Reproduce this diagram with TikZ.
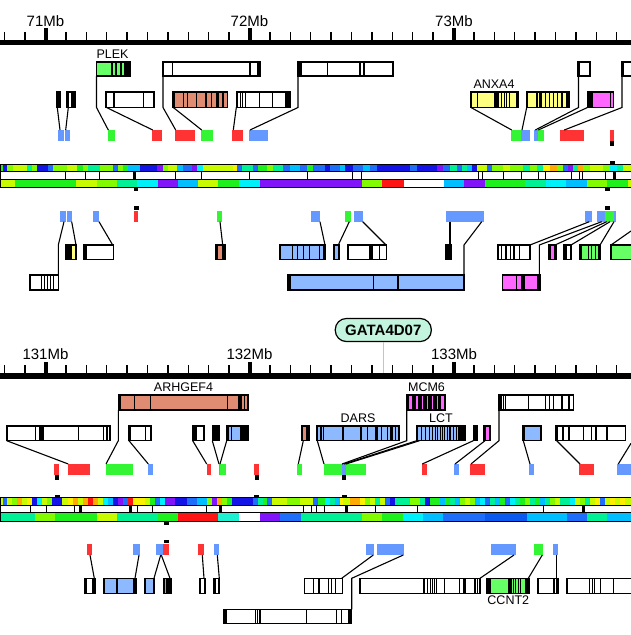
\documentclass[tikz,border=0pt]{standalone}
\usepackage{fontspec}
\setmainfont{Liberation Sans}
\definecolor{hB}{RGB}{20,20,230}
\definecolor{hP}{RGB}{130,20,250}
\definecolor{hD}{RGB}{30,110,250}
\definecolor{hDD}{RGB}{10,90,240}
\definecolor{hS}{RGB}{0,190,255}
\definecolor{hC}{RGB}{0,240,250}
\definecolor{hT}{RGB}{30,240,210}
\definecolor{hQ}{RGB}{0,240,150}
\definecolor{hG}{RGB}{30,240,30}
\definecolor{hL}{RGB}{130,250,0}
\definecolor{hY}{RGB}{200,250,0}
\definecolor{hW}{RGB}{250,240,0}
\definecolor{hO}{RGB}{255,170,0}
\definecolor{hR}{RGB}{255,20,20}
\definecolor{gGreen}{RGB}{102,255,102}
\definecolor{gBrown}{RGB}{224,140,115}
\definecolor{gYellow}{RGB}{255,255,128}
\definecolor{gMag}{RGB}{255,102,255}
\definecolor{gBlue}{RGB}{140,185,255}
\definecolor{sRed}{RGB}{255,51,51}
\definecolor{sGreen}{RGB}{51,245,51}
\definecolor{sBlue}{RGB}{102,153,255}
\definecolor{gataFill}{RGB}{195,245,222}
\definecolor{gataLine}{RGB}{175,225,100}
\tikzset{gline/.style={line width=1.25pt},
  tick/.style={line width=1.3pt}}
% gene: x1, x2, top, height, fill, stripes
\newcommand{\gbox}[6]{%
  \fill[#5] (#1,#3) rectangle (#2,#3+#4);
  \foreach \xa/\xb in {#6} \fill[black] (\xa,#3) rectangle (\xb,#3+#4);
  \draw[gline] (#1,#3) rectangle (#2,#3+#4);}
\newcommand{\sq}[4]{\fill[#4] (#1,#3) rectangle (#2,#3+10.7);}
\newcommand{\band}[3]{%
  \foreach \xa/\xb/\col in {#3} \fill[\col] (\xa,#1) rectangle (\xb,#2);
  \draw[line width=0.9pt] (0,#1) rectangle (631,#2);}
\newcommand{\ruler}[1]{%
  \fill (0,#1) rectangle (631,#1+5.5);
  \foreach \i in {0,...,30} \draw[tick] (4.7+\i*20.4,#1) -- ++(0,-8);
  \foreach \i in {2,12,22} \fill (4.7+\i*20.4-2,#1) rectangle ++(4,-11.5);}
\begin{document}
\begin{tikzpicture}[x=1pt,y=-1pt,
  link/.style={line width=1.1pt},
  mb/.style={anchor=base,font=\fontsize{15}{15}\selectfont},
  gname/.style={anchor=base,font=\fontsize{12.5}{12.5}\selectfont},
  gata/.style={draw,line width=1.2pt,fill=gataFill,rounded corners=11pt,minimum width=96pt,
    minimum height=23pt,inner sep=0pt,font=\fontsize{15}{15}\selectfont\bfseries}]
\useasboundingbox (0,0) rectangle (631,635);

% ---- upper panel
\ruler{39.5}
\node[mb] (m71) at (45.5,26) {71Mb};
\node[mb] (m72) at (249.5,26) {72Mb};
\node[mb] (m73) at (454,26) {73Mb};

\gbox{96.5}{130}{62}{14}{gGreen}{111/113, 115/117, 119.5/121.5, 124/130}
\gbox{163}{260}{62}{14}{white}{163/164, 171.5/173, 249/250.5, 257/260}
\gbox{298}{393}{62}{14}{white}{298/302, 326.7/328.3, 359.3/360.7, 363.3/365, 391.5/393}
\gbox{578}{590}{62}{14}{white}{578/580}
\gbox{622}{634}{62}{14}{white}{622/624}
\node[gname] (plek) at (112.5,58.3) {PLEK};

\gbox{56.5}{60.5}{92}{15.5}{black}{56.5/60.5}
\gbox{67}{75}{92}{15.5}{white}{67/69.3, 71.3/75}
\gbox{105.7}{154.5}{92}{15.5}{white}{105.7/107, 113/115, 142.5/143.8, 153.3/154.5}
\gbox{172.3}{227.7}{92}{15.5}{gBrown}{172.3/175, 182.5/183.7, 186.5/187.7, 195.5/196.7, 205/207, 211/212.3, 216/219, 222/224, 226.5/227.7}
\gbox{236.3}{290.5}{92}{15.5}{white}{236.3/238.3, 240.2/241.2, 242.2/243.2, 244.5/245.5, 259/260.2, 272.2/273.4, 285/290.5}
\gbox{470.7}{518.3}{92}{15.5}{gYellow}{470.7/472, 476.7/478.3, 494/499, 501/502, 503.5/504.5, 506/507, 509/510, 516.3/518.3}
\gbox{526.7}{569.3}{92}{15.5}{gYellow}{526.7/528.3, 536.3/537.5, 539.3/542.3, 544.5/545.7, 549/550.2, 553/554.2, 557/558.2, 561.3/562.5, 566.3/569.3}
\gbox{587.3}{613.3}{92}{15.5}{gMag}{587.3/593, 609.5/611}
\node[gname] (anxa) at (494,88) {ANXA4};

\sq{58}{63.7}{130}{sBlue} \sq{64.7}{70}{130}{sBlue}
\sq{108.3}{115}{130}{sGreen} \sq{152}{162}{130}{sRed}
\sq{175.3}{195}{130}{sRed} \sq{201}{212.7}{130}{sGreen}
\sq{232.3}{243}{130}{sRed} \sq{249.3}{268}{130}{sBlue}
\sq{511}{521}{130}{sGreen} \sq{521}{530}{130}{sBlue}
\sq{534}{538.3}{130}{sBlue} \sq{538.3}{543.7}{130}{sGreen}
\sq{560}{584}{130}{sRed} \sq{610}{614}{130}{sRed}
\fill (610,141) rectangle (614,145.5);

\draw[link] (57.3,107.5) -- (60,130);
\draw[link] (68.3,107.5) -- (65.7,130);
\draw[link] (96.5,76) -- (96.5,107.5) -- (108.3,130);
\draw[link] (106.5,107.5) -- (152.7,130);
\draw[link] (163,76) -- (163,107.5) -- (175.7,130);
\draw[link] (173.3,107.5) -- (201.7,130);
\draw[link] (236.3,107.5) -- (233.3,130);
\draw[link] (298,76) -- (298,107.5) -- (250,130);
\draw[link] (471,107.5) -- (511.7,130);
\draw[link] (526.7,107.5) -- (522,130);
\draw[link] (578.5,76) -- (578.5,107.5) -- (535.3,130);
\draw[link] (587.5,107.5) -- (538.3,130);
\draw[link] (622,76) -- (622,107.5) -- (564.3,130);

\band{164.5}{171.5}{0/3/hG, 3/7/hB, 7/13/hL, 13/27/hY, 27/32/hQ, 32/37/hL, 37/48/hB, 48/53/hD, 53/67/hL, 67/77/hY, 77/83/hG, 83/88/hL, 88/100/hQ, 100/113/hL, 113/118/hD, 118/123/hL, 123/128/hG, 128/140/hS, 140/157/hB, 157/163/hP, 163/168/hL, 168/177/hY, 177/183/hS, 183/192/hD, 192/197/hP, 197/203/hC, 203/233/hY, 233/237/hW, 237/242/hD, 242/253/hQ, 253/258/hD, 258/267/hG, 267/273/hL, 273/283/hQ, 283/290/hD, 290/300/hS, 300/307/hD, 307/313/hG, 313/325/hD, 325/330/hB, 330/340/hD, 340/345/hS, 345/353/hB, 353/363/hD, 363/370/hS, 370/377/hD, 377/410/hB, 410/417/hD, 417/437/hB, 437/443/hP, 443/450/hD, 450/457/hQ, 457/462/hD, 462/467/hQ, 467/472/hS, 472/477/hB, 477/487/hY, 487/492/hD, 492/503/hL, 503/510/hY, 510/523/hL, 523/530/hQ, 530/537/hL, 537/543/hQ, 543/550/hW, 550/557/hO, 557/563/hL, 563/568/hD, 568/573/hP, 573/578/hQ, 578/583/hO, 583/590/hL, 590/603/hY, 603/610/hL, 610/617/hC, 617/623/hQ, 623/631/hY}
\draw[line width=0.9pt] (0,171.5) rectangle (631,179.5);
\foreach \x in {65.7, 85, 99.3, 175.7, 201.7, 249.7, 307.3, 352.7, 361.7, 478.3, 482.7, 503.3, 521.7, 538.7, 545, 571.7, 579.3, 582.7, 605}
  \draw[line width=1pt] (\x,171.5) -- (\x,179.5);
\foreach \x in {134, 614} \fill (\x-1.5,171.5) rectangle (\x+1.5,179.5);
\band{179.5}{187.5}{0/15/hY, 15/35/hG, 35/55/hG, 55/76/hG, 76/97/hY, 97/117/hL, 117/137/hQ, 137/158/hC, 158/178/hP, 178/198/hS, 198/218/hY, 218/239/hG, 239/260/hC, 260/362/hP, 362/382/hL, 382/404/hR, 404/444/white, 444/464/hS, 464/485/hP, 485/525/hG, 525/546/hQ, 546/566/hC, 566/587/hS, 587/607/hL, 607/628/hG, 628/631/hY}
\fill (610,161) rectangle (615,164.5);
\fill (133.5,187.5) rectangle (138,191);
\fill (605,187.5) rectangle (609.5,191);

\fill (133.5,206) rectangle (138.5,210);
\fill (605,206) rectangle (609.5,210);
\sq{60}{65.7}{211}{sBlue} \sq{66.7}{71.7}{211}{sBlue}
\sq{93.3}{99}{211}{sBlue} \sq{134}{138.3}{211}{sRed}
\sq{217.3}{221.7}{211}{sGreen} \sq{311}{320}{211}{sBlue}
\sq{345}{350.7}{211}{sGreen} \sq{354.3}{362.7}{211}{sBlue}
\sq{446}{484}{211}{sBlue} \sq{585}{591.7}{211}{sBlue}
\sq{597.3}{605}{211}{sBlue} \sq{605}{614}{211}{sGreen}
\sq{614}{616}{211}{sBlue}

\gbox{66}{76.5}{245}{14.3}{gYellow}{66/71.7, 74.8/76.5}
\gbox{84}{113.3}{245}{14.3}{white}{84/87}
\gbox{215.3}{225}{245}{14.3}{gBrown}{215.3/218, 222/225}
\gbox{280}{325.5}{245}{14.3}{gBlue}{280/281, 291.7/293, 297/298.3, 302.5/303.8, 309/310.2, 319/320.2, 323.3/325.5}
\gbox{334}{339.5}{245}{14.3}{gBlue}{334/335.3, 338.2/339.5}
\gbox{347.3}{386.7}{245}{14.3}{white}{347.3/348.5, 369.3/373.3, 378.5/379.7, 385.5/386.7}
\gbox{446}{451.7}{245}{14.3}{black}{446/451.7}
\gbox{497.3}{530}{245}{14.3}{white}{497.3/499.3, 501/502.2, 505.3/506.5, 509.5/510.7, 513/515, 518.5/519.7}
\gbox{548.5}{556}{245}{14.3}{gMag}{548.5/550.5, 554/556}
\gbox{564}{571.7}{245}{14.3}{white}{564/567, 570/571.7}
\gbox{579.3}{600.7}{245}{14.3}{gGreen}{579.3/581.5, 587.5/588.7, 590.5/591.7, 594.5/596, 597.5/600.7}
\gbox{610.3}{634}{245}{14.3}{gGreen}{610.3/611.5}

\gbox{29.3}{58.3}{275}{15}{white}{29.3/31.3, 40.5/41.7, 44/45.2, 47/48.2, 50/51.2, 53/54.2}
\gbox{287.3}{464}{275}{15}{gBlue}{287.3/290.5, 372.7/374, 397.3/399.3}
\gbox{502.7}{540}{275}{15}{gMag}{516/517.3, 520.7/525, 536.7/540}

\draw[link] (64,221.7) -- (58.3,245) -- (58.3,275);
\draw[link] (71.7,221.7) -- (76,245);
\draw[link] (99,221.7) -- (112.7,245);
\draw[link] (220,221.7) -- (222.7,245);
\draw[link] (320,221.7) -- (325,245);
\draw[link] (349.3,221.7) -- (338.3,245);
\draw[link] (362.7,221.7) -- (386,245);
\draw[link] (450,221.7) -- (450,245);
\draw[link] (481.7,221.7) -- (464,245) -- (464,275);
\draw[link] (589.3,221.7) -- (530,245);
\draw[link] (601.7,221.7) -- (539.3,245) -- (539.3,275);
\draw[link] (606.7,221.7) -- (555,245);
\draw[link] (610,221.7) -- (571,245);
\draw[link] (614,221.7) -- (600,245);
\draw[link] (631,231) -- (611,245);

% ---- lower panel
\node[gata] (gata) at (383.3,330) {GATA4D07};
\draw[gataLine,line width=0.8pt] (gata.south) -- ++(0,31.5);
\ruler{373}
\node[mb] (m131) at (45.5,359) {131Mb};
\node[mb] (m132) at (249.5,359) {132Mb};
\node[mb] (m133) at (454,359) {133Mb};

\gbox{118.3}{248.3}{395}{15}{gBrown}{118.3/121, 134/135.3, 150/151.2, 227/228.2, 238.3/242.3, 244.3/245.3, 247.3/248.3}
\gbox{406.7}{445.7}{395}{15}{gMag}{406.7/409, 412/416, 417.7/421.7, 423.3/426.7, 428.3/431.7, 433.3/436.7, 438.3/441, 444.3/445.7}
\gbox{499}{573.3}{395}{15}{white}{499/501.5, 502.8/503.8, 505/506, 528/529.2, 544.8/546, 548.5/549.7, 552.5/553.7, 561.3/562.5, 567.8/569.7}
\node[gname] (arhgef) at (183.5,391.5) {ARHGEF4};
\node[gname] (mcm) at (426.5,391.5) {MCM6};

\gbox{6.7}{110.7}{426}{14.7}{white}{6.7/8, 34.5/35.7, 39.3/44, 77.7/78.9, 102.5/103.7, 106.3/107.5, 109.4/110.7}
\gbox{129}{151.7}{426}{14.7}{white}{129/131, 144.5/145.7, 149.7/151.7}
\gbox{192.7}{204.7}{426}{14.7}{white}{192.7/197, 203.3/204.7}
\gbox{212.3}{219}{426}{14.7}{black}{212.3/219}
\gbox{226.3}{248.3}{426}{14.7}{gBlue}{226.3/229, 230.5/231.5, 240/248.3}
\gbox{301.7}{309}{426}{14.7}{gBrown}{301.7/303.3, 306/309}
\gbox{316.7}{399}{426}{14.7}{gBlue}{316.7/318, 319.8/321.5, 323/324, 342.3/343.5, 360/362, 366.5/367.7, 375/378, 381/382.2, 386.5/387.7, 390/393, 395/396, 397.8/399}
\gbox{416.7}{465.5}{426}{14.7}{gBlue}{416.7/418, 420.5/421.5, 425/426.2, 429.3/430.3, 432/433, 434.5/435.5, 437/438, 439.5/440.5, 442/443, 444.3/445.3, 446.8/447.8, 449/451, 453/454, 455.5/456.5, 458.3/465.5}
\gbox{473.3}{477.3}{426}{14.7}{black}{473.3/477.3}
\gbox{484}{490.5}{426}{14.7}{gMag}{484/486, 488.8/490.5}
\gbox{522.7}{541}{426}{14.7}{gBlue}{522.7/524.5}
\gbox{556}{625.7}{426}{14.7}{white}{556/557.5, 562.3/563.5, 568/569.5, 583/584.2, 590.7/591.9, 595.3/597, 606.3/607.5}
\node[gname] (dars) at (358,422.5) {DARS};
\node[gname] (lct) at (441,422.5) {LCT};

\sq{54.3}{59.3}{464}{sRed} \sq{68.3}{90}{464}{sRed}
\sq{106}{132.7}{464}{sGreen} \sq{148.3}{152.7}{464}{sBlue}
\sq{206.7}{211}{464}{sRed} \sq{218.7}{220.3}{464}{sBlue}
\sq{220.3}{226}{464}{sGreen} \sq{254.3}{259}{464}{sRed}
\sq{297.3}{302.3}{464}{sGreen} \sq{324}{341.7}{464}{sGreen}
\sq{341.7}{345.7}{464}{sBlue} \sq{345.7}{365.7}{464}{sGreen}
\sq{422.3}{427.3}{464}{sRed} \sq{454.3}{459}{464}{sBlue}
\sq{470.3}{485}{464}{sRed} \sq{529}{534}{464}{sBlue}
\sq{579.3}{594}{464}{sRed} \sq{616.7}{634}{464}{sBlue}
\foreach \x in {55, 255, 342} \fill (\x,475) rectangle (\x+4,479.5);

\draw[link] (6.7,440.7) -- (68.3,464);
\draw[link] (118.3,410) -- (118.3,440.7) -- (106,464);
\draw[link] (129,440.7) -- (148.3,464);
\draw[link] (192.7,440.7) -- (206.7,464);
\draw[link] (212.3,440.7) -- (219,464);
\draw[link] (226.7,440.7) -- (220,464);
\draw[link] (303.3,440.7) -- (298.3,464);
\draw[link] (317.3,440.7) -- (324,464);
\draw[link] (406.7,410) -- (406.7,440.7) -- (342,464);
\draw[link] (416.7,440.7) -- (344,464);
\draw[link] (419.5,440.7) -- (346,464);
\draw[link] (473.3,440.7) -- (422.3,464);
\draw[link] (485,440.7) -- (455,464);
\draw[link] (499,410) -- (499,440.7) -- (471,464);
\draw[link] (523.3,440.7) -- (530,464);
\draw[link] (556.7,440.7) -- (580,464);
\draw[link] (631,443.3) -- (618.3,464);

\foreach \x in {55, 254.3, 342.3} \fill (\x,494.5) rectangle (\x+4.5,497.5);
\band{497.5}{505}{0/3/hY, 3/7/hD, 7/12/hY, 12/17/hL, 17/22/hO, 22/27/hY, 27/32/hW, 32/37/hB, 37/42/hC, 42/47/hY, 47/52/hL, 52/62/hB, 62/68/hY, 68/73/hW, 73/78/hO, 78/83/hY, 83/88/hO, 88/93/hR, 93/98/hO, 98/103/hY, 103/108/hC, 108/113/hS, 113/118/hB, 118/123/hP, 123/128/hD, 128/133/hR, 133/145/hW, 145/150/hY, 150/155/hG, 155/160/hD, 160/165/hC, 165/175/hP, 175/187/hB, 187/197/hD, 197/207/hS, 207/212/hL, 212/217/hP, 217/222/hO, 222/227/hL, 227/232/hG, 232/253/hB, 253/258/hD, 258/263/hQ, 263/267/hG, 267/272/hD, 272/287/hY, 287/300/hL, 300/313/hY, 313/318/hD, 318/325/hG, 325/330/hC, 330/335/hQ, 335/340/hS, 340/343/hW, 343/350/hY, 350/360/hO, 360/365/hW, 365/370/hL, 370/375/hY, 375/380/hQ, 380/385/hY, 385/390/hD, 390/395/hB, 395/410/hQ, 410/420/hL, 420/425/hQ, 425/430/hB, 430/440/hG, 440/445/hS, 445/450/hG, 450/455/hQ, 455/460/hS, 460/465/hL, 465/470/hY, 470/475/hL, 475/480/hS, 480/485/hC, 485/490/hD, 490/495/hQ, 495/500/hS, 500/505/hG, 505/510/hD, 510/515/hC, 515/520/hQ, 520/525/hG, 525/530/hL, 530/535/hQ, 535/540/hG, 540/545/hS, 545/550/hQ, 550/555/hL, 555/560/hY, 560/570/hQ, 570/575/hC, 575/580/hY, 580/585/hL, 585/590/hQ, 590/595/hY, 595/600/hW, 600/605/hD, 605/610/hY, 610/615/hW, 615/620/hY, 620/625/hW, 625/631/hY}
\draw[line width=0.9pt] (0,505) rectangle (631,512.5);
\foreach \x in {30.7, 46.7, 74, 137.3, 152.7, 206.7, 303.3, 311.7, 316.7, 324, 375, 417.3, 543.3}
  \draw[line width=1pt] (\x,505) -- (\x,512.5);
\foreach \x in {80, 130.7, 220, 346.7, 583.3} \fill (\x-1.5,505) rectangle (\x+1.5,512.5);
\band{512.5}{521}{0/35/hQ, 35/55/hL, 55/97/hG, 97/117/hY, 117/158/hQ, 158/178/hG, 178/218/hR, 218/239/hT, 239/260/white, 260/280/hP, 280/301/hD, 301/362/hQ, 362/382/hL, 382/403/hG, 403/423/hC, 423/443/hS, 443/485/hD, 485/527/hDD, 527/567/hS, 567/587/hD, 587/607/hQ, 607/631/hS}
\fill (164,521) rectangle (168.5,524.5);

\fill (164,539.5) rectangle (168.5,543);
\sq{87.3}{92.3}{544}{sRed} \sq{133.3}{140}{544}{sBlue}
\sq{156}{163.3}{544}{sBlue} \sq{163.3}{169}{544}{sRed}
\sq{198.3}{204}{544}{sRed} \sq{214}{219}{544}{sBlue}
\sq{366}{374}{544}{sBlue} \sq{376.7}{404}{544}{sBlue}
\sq{491}{516}{544}{sBlue} \sq{534}{542.7}{544}{sGreen}
\sq{553.3}{558.3}{544}{sBlue}

\gbox{85}{95}{578.3}{15}{white}{85/87.3, 91.7/95}
\gbox{103.3}{136.7}{578.3}{15}{gBlue}{103.3/105, 116.3/117.5, 133/136.7}
\gbox{144.3}{154.3}{578.3}{15}{gBlue}{144.3/145.5, 153/154.3}
\gbox{163.3}{171}{578.3}{15}{gBrown}{163.3/164.5, 166.3/171}
\gbox{199.3}{205}{578.3}{15}{white}{199.3/201, 203.5/205}
\gbox{214}{219.7}{578.3}{15}{white}{214/215.5, 218.3/219.7}
\gbox{304.3}{342.3}{578.3}{15}{white}{304.3/305.3, 312.5/313.7, 318.3/319.5, 327.7/328.9, 330.7/331.9, 334.7/335.9}
\gbox{360}{480}{578.3}{15}{white}{360/361, 423/425, 426.5/427.5, 429.7/430.7, 431.8/432.8, 433.8/434.8, 435.8/436.8, 443.8/445, 459/460.2, 463/465.5, 474.3/475.5, 476.7/478.3}
\gbox{486.7}{529}{578.3}{15}{gGreen}{486.7/491, 508.3/509.5, 510.3/511.5, 512.5/513.7, 515/516.2, 517.7/518.9, 520/521.2, 525/529}
\gbox{537.7}{558.3}{578.3}{15}{white}{537.7/538.7, 553.3/555, 556.3/558.3}
\gbox{566.7}{634}{578.3}{15}{white}{566.7/568, 588.5/589.7, 591.5/592.7, 594/595.2, 599.5/600.7, 613/614.2}
\node[gname] (ccnt) at (508.3,604) {CCNT2};

\gbox{224}{351.7}{609.3}{14}{white}{224/227, 254.5/255.7, 256.8/258, 259.3/260.5, 305.5/306.7, 335.5/336.7, 340.5/341.7, 348/351.7}

\draw[link] (90,555) -- (94.3,578.3);
\draw[link] (139,555) -- (135,578.3);
\draw[link] (160.7,555) -- (154,578.3);
\draw[link] (161.3,555) -- (170,578.3);
\draw[link] (202.3,555) -- (204,578.3);
\draw[link] (217.3,555) -- (219.3,578.3);
\draw[link] (373.3,555) -- (341.7,578.3);
\draw[link] (403.3,555) -- (351.7,578.3) -- (351.7,609.3);
\draw[link] (514,555) -- (480,578.3);
\draw[link] (542.3,555) -- (528.3,578.3);
\draw[link] (556.7,555) -- (556.7,578.3);
\end{tikzpicture}
\end{document}
